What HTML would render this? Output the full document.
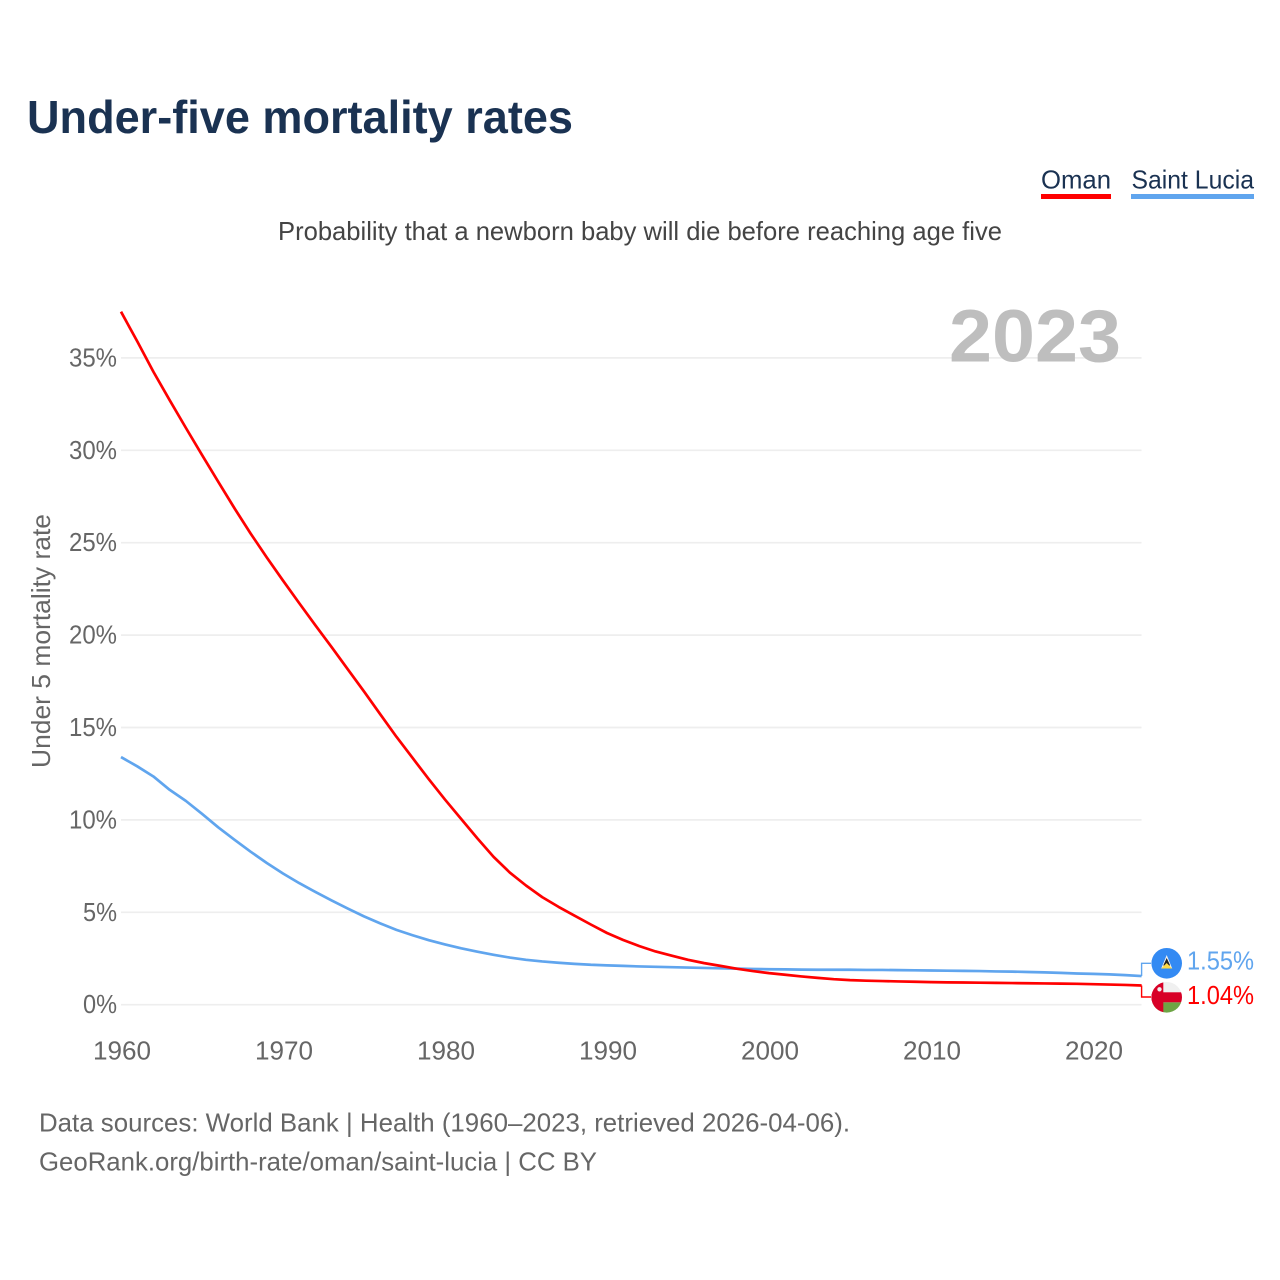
<!DOCTYPE html>
<html lang="en">
<head>
<meta charset="utf-8">
<title>Under-five mortality rates</title>
<style>
html,body{margin:0;padding:0;background:#fff;width:1280px;height:1280px;overflow:hidden}
svg{display:block}
text{font-family:"Liberation Sans",sans-serif}
</style>
</head>
<body>
<svg id="chart" xmlns="http://www.w3.org/2000/svg" width="1280" height="1280" viewBox="0 0 1280 1280">
  <text x="27" y="133" font-size="46" font-weight="700" fill="#1a3252" textLength="546" lengthAdjust="spacingAndGlyphs">Under-five mortality rates</text>
  <text x="278" y="240" font-size="26" fill="#444444" textLength="724" lengthAdjust="spacingAndGlyphs">Probability that a newborn baby will die before reaching age five</text>
  <g>
    <text x="1041" y="188.5" font-size="26" fill="#1a3252" textLength="70" lengthAdjust="spacingAndGlyphs">Oman</text>
    <rect x="1041" y="194" width="70" height="5" fill="#ff0000"/>
  </g>
  <g>
    <text x="1131.5" y="188.5" font-size="26" fill="#1a3252" textLength="122.5" lengthAdjust="spacingAndGlyphs">Saint Lucia</text>
    <rect x="1131" y="194" width="123" height="5" fill="#60a5ee"/>
  </g>
  <g id="grid"></g>
  <g id="yticks"></g>
  <g id="xticks"></g>
  <text x="949" y="361.5" font-size="74" font-weight="700" fill="#bebebe" textLength="172" lengthAdjust="spacingAndGlyphs">2023</text>
  <text transform="translate(50,768) rotate(-90)" x="0" y="0" font-size="26" fill="#666666" textLength="254" lengthAdjust="spacingAndGlyphs">Under 5 mortality rate</text>
  <g id="series"></g>
  <g>
    <circle cx="1166.7" cy="963.3" r="15.3" fill="#338af3"/>
    <polygon points="1166.7,955 1161.2,968.5 1172.2,968.5" fill="#f3f3f3"/>
    <polygon points="1166.7,958 1163.2,965.5 1170.2,965.5" fill="#222222"/>
    <polygon points="1166.7,963 1161.2,968.5 1172.2,968.5" fill="#ffda44"/>
  </g>
  <g>
    <clipPath id="oman-clip"><circle cx="1166.7" cy="997.3" r="15.3"/></clipPath>
    <g clip-path="url(#oman-clip)">
      <rect x="1150" y="981" width="34" height="33" fill="#f0f0f0"/>
      <rect x="1150" y="1002.3" width="34" height="12" fill="#6da544"/>
      <rect x="1150" y="992.3" width="34" height="10" fill="#d80027"/>
      <rect x="1150" y="981" width="13.3" height="33" fill="#d80027"/>
      <circle cx="1159.5" cy="989.3" r="2.2" fill="#f0f0f0"/>
    </g>
  </g>
  <text id="valueLucia" x="1187" y="969.5" font-size="26" fill="#60a5ee" textLength="67" lengthAdjust="spacingAndGlyphs"></text>
  <text id="valueOman" x="1187" y="1004" font-size="26" fill="#ff0000" textLength="67" lengthAdjust="spacingAndGlyphs"></text>
  <text x="39" y="1131.5" font-size="26" fill="#666666" textLength="811" lengthAdjust="spacingAndGlyphs">Data sources: World Bank | Health (1960–2023, retrieved 2026-04-06).</text>
  <text x="39" y="1170.5" font-size="26" fill="#666666" textLength="558" lengthAdjust="spacingAndGlyphs">GeoRank.org/birth-rate/oman/saint-lucia | CC BY</text>
</svg>
<script>
const startYear = 1960;
const omanValues = [37.5,35.9,34.25,32.72,31.22,29.75,28.3,26.87,25.5,24.2,22.95,21.73,20.53,19.35,18.15,16.95,15.72,14.5,13.35,12.2,11.1,10.05,9.0,8.0,7.15,6.45,5.82,5.3,4.82,4.34,3.88,3.5,3.17,2.88,2.65,2.43,2.25,2.1,1.95,1.82,1.71,1.62,1.53,1.45,1.38,1.33,1.3,1.28,1.26,1.24,1.22,1.21,1.20,1.19,1.18,1.17,1.16,1.15,1.14,1.13,1.11,1.09,1.07,1.04];
const luciaValues = [13.4,12.9,12.35,11.63,11.03,10.33,9.6,8.93,8.28,7.67,7.1,6.58,6.1,5.64,5.2,4.78,4.4,4.05,3.76,3.49,3.26,3.05,2.87,2.7,2.55,2.43,2.34,2.27,2.21,2.16,2.13,2.1,2.07,2.05,2.03,2.01,1.99,1.97,1.95,1.93,1.92,1.91,1.90,1.89,1.89,1.89,1.88,1.88,1.87,1.86,1.85,1.84,1.83,1.82,1.80,1.79,1.77,1.75,1.72,1.69,1.67,1.64,1.60,1.55];
const yTickValues = [0,5,10,15,20,25,30,35];
const xTickValues = [1960,1970,1980,1990,2000,2010,2020];
const printedOman = "1.04%";
const printedLucia = "1.55%";

const NS = "http://www.w3.org/2000/svg";
const xScale = year => 121 + (year - 1960) * 16.2;
const yScale = pct => 1004.7 - pct * 18.48;

function makeEl(tag, attrs, parent) {
  const el = document.createElementNS(NS, tag);
  for (const k in attrs) el.setAttribute(k, attrs[k]);
  parent.appendChild(el);
  return el;
}

const grid = document.getElementById("grid");
const yticks = document.getElementById("yticks");
yTickValues.forEach(v => {
  const line = makeEl("line", {x1: 121, x2: 1141.5, y1: yScale(v), y2: yScale(v), stroke: "#eeeeee", "stroke-width": 1.7}, grid);
  
  
  const label = makeEl("text", {x: 117, y: yScale(v) + 8.5, "font-size": 26, fill: "#666666", "text-anchor": "end", textLength: v < 10 ? 34 : 48, lengthAdjust: "spacingAndGlyphs"}, yticks);
  
  
  label.textContent = v + "%";
});

const xticks = document.getElementById("xticks");
xTickValues.forEach(y => {
  const label = makeEl("text", {x: xScale(y) + 1, y: 1059.5, "font-size": 26, fill: "#666666", "text-anchor": "middle", textLength: 58, lengthAdjust: "spacingAndGlyphs"}, xticks);
  
  
  label.textContent = y;
});

function linePoints(values) {
  return values.map((v, i) => xScale(startYear + i).toFixed(2) + "," + yScale(v).toFixed(2)).join(" ");
}

const series = document.getElementById("series");

const luciaLine = makeEl("polyline", {points: linePoints(luciaValues), fill: "none", stroke: "#60a5ee", "stroke-width": 2.7, "stroke-linejoin": "round"}, series);



const omanLine = makeEl("polyline", {points: linePoints(omanValues), fill: "none", stroke: "#ff0000", "stroke-width": 2.7, "stroke-linejoin": "round"}, series);



const endX = xScale(startYear + omanValues.length - 1);
const luciaEndY = yScale(luciaValues[luciaValues.length - 1]);
const omanEndY = yScale(omanValues[omanValues.length - 1]);

const luciaConn = makeEl("polyline", {points: endX + "," + luciaEndY + " " + endX + ",963.3 1151,963.3", fill: "none", stroke: "#60a5ee", "stroke-width": 1.4}, series);



const omanConn = makeEl("polyline", {points: endX + "," + omanEndY + " " + endX + ",997 1151,997", fill: "none", stroke: "#ff0000", "stroke-width": 1.4}, series);



document.getElementById("valueLucia").textContent = printedLucia;
document.getElementById("valueOman").textContent = printedOman;
</script>
</body>
</html>
